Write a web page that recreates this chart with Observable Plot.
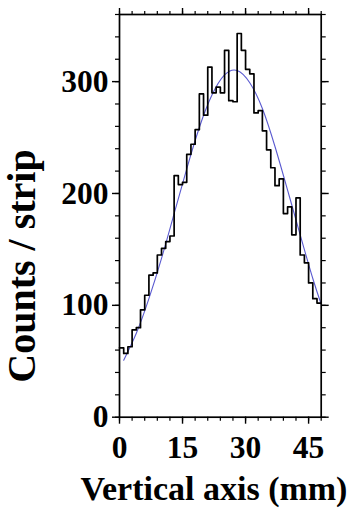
<!DOCTYPE html>
<html><head><meta charset="utf-8">
<script src="https://cdn.jsdelivr.net/npm/d3@7"></script>
<script src="https://cdn.jsdelivr.net/npm/@observablehq/plot@0.6"></script>
<style>body{margin:0;background:#fff}</style>
</head><body><div id="chart"></div>
<script>
// Histogram: left edge of each 1 mm strip and its counts
const binStarts = [0,1,2,3,4,5,6,7,8,9,10,11,12,13,14,15,16,17,18,19,20,21,22,23,24,25,26,27,28,29,30,31,32,33,34,35,36,37,38,39,40,41,42,43,44,45,46,47];
const counts = [62,57,63,78,80,96,109,127,129,145,151,157,162,216,208,210,235,244,257,289,270,313,290,295,290,328,283,282,343,328,311,307,272,274,256,239,223,207,213,182,188,163,196,145,138,120,106,102];
const histEnd = 48;
// Fitted curve
const fitX = [1,4,7,10,13,16,19,22,25,28,31,34,37,40,43,46,48];
const fitY = [51,75,106,142,182,222,259,288,306,310,299,276,242,203,163,124,101];
// Axis ticks
const xMajorTicks = [0,15,30,45];
const xMinorTicks = [0,3,6,9,12,15,18,21,24,27,30,33,36,39,42,45,48];
const yMajorTicks = [0,100,200,300];
const yMinorTicks = [0,20,40,60,80,100,120,140,160,180,200,220,240,260,280,300,320,340,360];
const xTitle = "Vertical axis (mm)";
const yTitle = "Counts / strip";

const hist = binStarts.map((x, i) => ({x, y: counts[i]}));
hist.push({x: histEnd, y: counts[counts.length - 1]});
const fit = fitX.map((x, i) => ({x, y: fitY[i]}));

const blank = () => "";
const plot = Plot.plot({
  width: 356, height: 508,
  marginLeft: 119, marginRight: 35.3, marginTop: 14, marginBottom: 91.3,
  x: {domain: [0, 48], label: null},
  y: {domain: [0, 360], label: null},
  style: {fontFamily: "'Liberation Serif','Times New Roman',serif", fontWeight: "bold", fontSize: "31.5px", color: "#000", background: "#fff"},
  marks: [
    Plot.line(fit, {x: "x", y: "y", curve: "natural", stroke: "#5a5ad0", strokeWidth: 1.1}),
    Plot.line(hist, {x: "x", y: "y", curve: "step-after", stroke: "#000", strokeWidth: 1.7}),
    Plot.frame({stroke: "#000", strokeWidth: 1.7}),
    Plot.axisX({ticks: xMajorTicks, anchor: "bottom", tickSize: 7, tickPadding: 11, label: null, strokeWidth: 1.4}),
    Plot.axisX({ticks: xMinorTicks, anchor: "bottom", tickSize: 4, tickFormat: blank, label: null, strokeWidth: 1.2}),
    Plot.axisX({ticks: xMajorTicks, anchor: "top", tickSize: 7, tickFormat: blank, label: null, strokeWidth: 1.4}),
    Plot.axisX({ticks: xMinorTicks, anchor: "top", tickSize: 4, tickFormat: blank, label: null, strokeWidth: 1.2}),
    Plot.axisY({ticks: yMajorTicks, anchor: "left", tickSize: 7, tickPadding: 4, label: null, strokeWidth: 1.4}),
    Plot.axisY({ticks: yMinorTicks, anchor: "left", tickSize: 4, tickFormat: blank, label: null, strokeWidth: 1.2}),
    Plot.axisY({ticks: yMajorTicks, anchor: "right", tickSize: 7, tickFormat: blank, label: null, strokeWidth: 1.4}),
    Plot.axisY({ticks: yMinorTicks, anchor: "right", tickSize: 4, tickFormat: blank, label: null, strokeWidth: 1.2})
  ]
});
const svg = d3.select(plot);
svg.append("text").attr("transform", "translate(35,266) rotate(-90)")
  .attr("text-anchor", "middle").style("font-size", "40px").attr("fill", "#000").text(yTitle);
svg.append("text").attr("x", 214).attr("y", 500)
  .attr("text-anchor", "middle").style("font-size", "34px").attr("fill", "#000").text(xTitle);
document.getElementById("chart").appendChild(plot);
</script>
</body></html>
